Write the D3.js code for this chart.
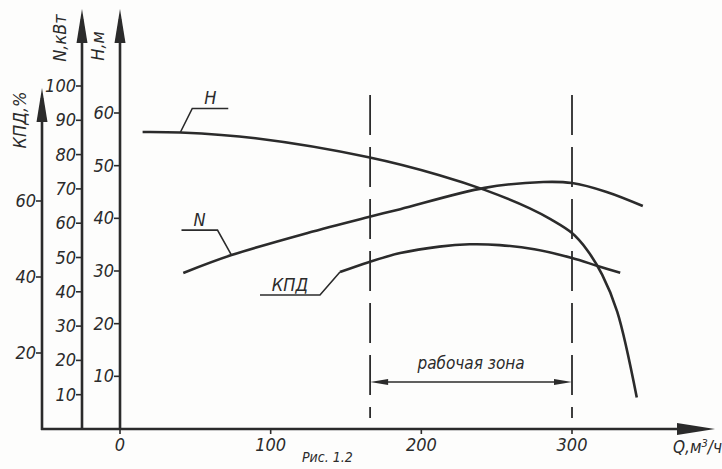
<!DOCTYPE html>
<html>
<head>
<meta charset="utf-8">
<script src="https://cdn.jsdelivr.net/npm/d3@7"></script>
<style>
  body { margin: 0; background: #fdfdfc; }
  svg text { font-family: "Liberation Sans Narrow", "DejaVu Sans Condensed", sans-serif; font-style: italic; fill: #2b2b2b; }
</style>
</head>
<body>
<div id="graph"></div>
<script>
// Q, м3/ч -> H, м
var q_H = [15, 40, 90, 165, 212, 242, 272, 286, 300, 310, 320, 330, 343];
var h_H = [56.4, 56.3, 55.2, 51.6, 48.2, 45.4, 41.9, 39.8, 37.2, 34.0, 29.3, 22.3, 6];
// Q -> N, кВт
var q_N = [42, 74, 124, 165, 186, 242, 281, 300, 323, 347];
var n_N = [45.5, 50.7, 57.1, 61.8, 64.1, 70.3, 72, 71.7, 69.1, 65];
// Q -> КПД, %
var q_K = [146, 165, 186, 212, 232, 252, 275, 300, 317, 332];
var k_K = [41.3, 43.9, 46.3, 48.0, 48.6, 48.4, 47.3, 45, 42.9, 41.1];

var ticks_Q = [0, 100, 200, 300];
var ticks_H = [10, 20, 30, 40, 50, 60];
var ticks_N = [10, 20, 30, 40, 50, 60, 70, 80, 90, 100];
var ticks_K = [20, 40, 60];
var zone = [166, 300];

function dessin() {
    var width = 722, height = 469,
        encre = "#2b2b2b",
        base = 429,

        svg = d3.select("#graph")
            .append("svg")
                .attr("width", width)
                .attr("height", height),

        x = d3.scaleLinear().domain([0, 300]).range([120, 572]),
        yH = d3.scaleLinear().domain([0, 60]).range([base, 113]),
        yN = d3.scaleLinear().domain([0, 100]).range([base, 86]),
        yK = d3.scaleLinear().domain([0, 60]).range([base, 201]),

        xK = 42, xN = 82, xH = 120;

    function fleche(g, x0, y0, dx, dy, long, larg) {
        // triangle pointing along (dx,dy)
        var px = -dy, py = dx;
        g.append("path")
            .attr("d", "M" + x0 + "," + y0 +
                "L" + (x0 - dx * long + px * larg / 2) + "," + (y0 - dy * long + py * larg / 2) +
                "L" + (x0 - dx * long - px * larg / 2) + "," + (y0 - dy * long - py * larg / 2) + "Z")
            .attr("fill", encre);
    }

    // vertical axes
    function axeVertical(xPos, echelle, ticks, haut, titre, titreY) {
        var g = svg.append("g");
        g.append("line")
            .attr("x1", xPos).attr("x2", xPos)
            .attr("y1", haut + 10).attr("y2", base + 1)
            .attr("stroke", encre).attr("stroke-width", 2.6);
        fleche(g, xPos, haut, 0, -1, 34, 11);
        g.selectAll(".tick")
            .data(ticks)
            .enter()
            .append("line")
            .attr("x1", xPos - 6).attr("x2", xPos)
            .attr("y1", function (d) { return echelle(d); })
            .attr("y2", function (d) { return echelle(d); })
            .attr("stroke", encre).attr("stroke-width", 1.6);
        g.selectAll(".lbl")
            .data(ticks)
            .enter()
            .append("text")
            .attr("x", xPos - 6)
            .attr("y", function (d) { return echelle(d) + 6; })
            .style("text-anchor", "end")
            .style("font-size", "18px")
            .text(function (d) { return d; });
        g.append("text")
            .attr("transform", "translate(" + (xPos - 16) + "," + titreY + ") rotate(-90)")
            .style("text-anchor", "middle")
            .style("font-size", "18px")
            .text(titre);
    }

    axeVertical(xK, yK, ticks_K, 88, "КПД,%", 120);
    axeVertical(xN, yN, ticks_N, 9, "N,кВт", 38);
    axeVertical(xH, yH, ticks_H, 9, "H,м", 46);

    // Q axis
    svg.append("line")
        .attr("x1", xK - 1).attr("x2", 690)
        .attr("y1", base).attr("y2", base)
        .attr("stroke", encre).attr("stroke-width", 2.6);
    fleche(svg, 715, base, 1, 0, 38, 12);
    svg.selectAll(".tq")
        .data(ticks_Q)
        .enter()
        .append("line")
        .attr("x1", function (d) { return x(d); })
        .attr("x2", function (d) { return x(d); })
        .attr("y1", base).attr("y2", base + 5)
        .attr("stroke", encre).attr("stroke-width", 1.6);
    svg.selectAll(".lq")
        .data(ticks_Q)
        .enter()
        .append("text")
        .attr("x", function (d) { return x(d); })
        .attr("y", base + 22)
        .style("text-anchor", "middle")
        .style("font-size", "18px")
        .text(function (d) { return d; });
    svg.append("text")
        .attr("x", 673).attr("y", base + 24)
        .style("font-size", "17px")
        .html("Q,м<tspan dy='-6' font-size='11'>3</tspan><tspan dy='6'>/ч</tspan>");
    svg.append("text")
        .attr("x", 302).attr("y", 462)
        .style("font-size", "14px")
        .text("Рис. 1.2");

    // working zone
    svg.selectAll(".zone")
        .data(zone)
        .enter()
        .append("line")
        .attr("x1", function (d) { return x(d); })
        .attr("x2", function (d) { return x(d); })
        .attr("y1", 95).attr("y2", 418)
        .attr("stroke", encre).attr("stroke-width", 1.8)
        .style("stroke-dasharray", "40 12");
    svg.append("line")
        .attr("x1", x(zone[0]) + 10).attr("x2", x(zone[1]) - 10)
        .attr("y1", 382).attr("y2", 382)
        .attr("stroke", encre).attr("stroke-width", 1.6);
    fleche(svg, x(zone[0]), 382, -1, 0, 18, 6);
    fleche(svg, x(zone[1]), 382, 1, 0, 18, 6);
    svg.append("text")
        .attr("x", (x(zone[0]) + x(zone[1])) / 2)
        .attr("y", 369)
        .style("text-anchor", "middle")
        .style("font-size", "17px")
        .text("рабочая зона");

    // curves
    var courbes = [
        {q: q_H, v: h_H, y: yH},
        {q: q_N, v: n_N, y: yN},
        {q: q_K, v: k_K, y: yK}
    ];
    courbes.forEach(function (c) {
        svg.append("path")
            .datum(d3.range(c.q.length))
            .attr("fill", "none")
            .attr("stroke", encre)
            .attr("stroke-width", 2.6)
            .attr("d", d3.line()
                .curve(d3.curveCatmullRom)
                .x(function (i) { return x(c.q[i]); })
                .y(function (i) { return c.y(c.v[i]); })
            );
    });

    // leaders
    var reperes = [
        {nom: "H", px: x(q_H[1]), py: yH(h_H[1]), coude: [12, -24], fin: 36},
        {nom: "N", px: x(q_N[1]), py: yN(n_N[1]), coude: [-14, -25], fin: -36},
        {nom: "КПД", px: x(q_K[0]), py: yK(k_K[0]), coude: [-20, 23], fin: -60}
    ];
    reperes.forEach(function (r) {
        var cx = r.px + r.coude[0], cy = r.py + r.coude[1];
        svg.append("path")
            .attr("d", "M" + r.px + "," + r.py + "L" + cx + "," + cy + "L" + (cx + r.fin) + "," + cy)
            .attr("fill", "none")
            .attr("stroke", encre)
            .attr("stroke-width", 1.6);
        svg.append("text")
            .attr("x", cx + r.fin / 2)
            .attr("y", cy - 4)
            .style("text-anchor", "middle")
            .style("font-size", "18px")
            .text(r.nom);
    });
}

dessin();
</script>
</body>
</html>
